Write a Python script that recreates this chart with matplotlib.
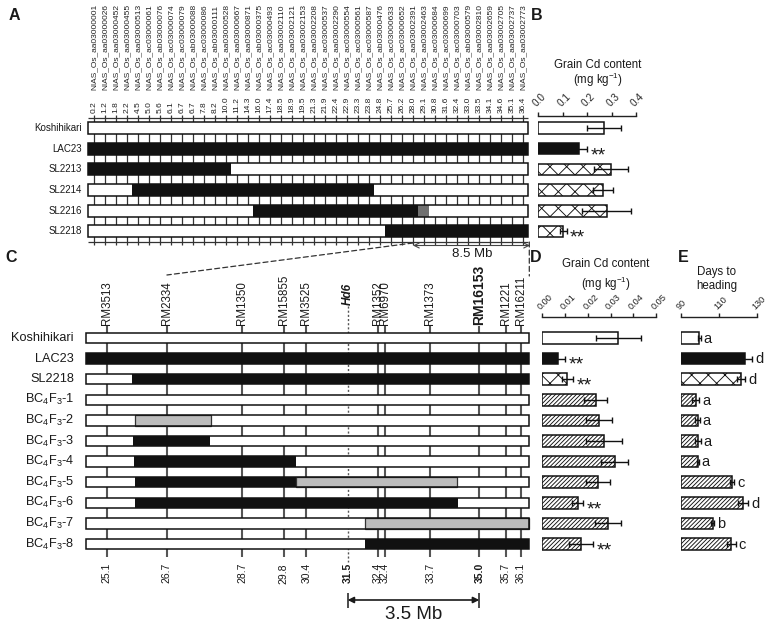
import matplotlib
matplotlib.use('Agg')
import matplotlib.pyplot as plt
from matplotlib.patches import Rectangle, ConnectionPatch

plt.rcParams['font.family'] = ['Liberation Sans', 'DejaVu Sans']
plt.rcParams['mathtext.default'] = 'regular'
plt.rcParams['hatch.linewidth'] = 0.65
plt.rcParams['text.color'] = '#1a1a1a'

# ---------------- data ----------------
A_markers = [
    'NIAS_Os_aa03000001', 'NIAS_Os_aa03000026', 'NIAS_Os_aa03000452', 'NIAS_Os_aa03000455',
    'NIAS_Os_aa03000513', 'NIAS_Os_ac03000061', 'NIAS_Os_ab03000076', 'NIAS_Os_ac03000074',
    'NIAS_Os_ac03000079', 'NIAS_Os_ab03000088', 'NIAS_Os_ac03000086', 'NIAS_Os_ab03000111',
    'NIAS_Os_aa03000528', 'NIAS_Os_aa03000667', 'NIAS_Os_aa03000871', 'NIAS_Os_ab03000375',
    'NIAS_Os_ac03000493', 'NIAS_Os_aa03002110', 'NIAS_Os_aa03002121', 'NIAS_Os_aa03002153',
    'NIAS_Os_aa03002208', 'NIAS_Os_ac03000537', 'NIAS_Os_aa03002290', 'NIAS_Os_ac03000554',
    'NIAS_Os_ac03000561', 'NIAS_Os_ac03000587', 'NIAS_Os_ab03000476', 'NIAS_Os_ac03000633',
    'NIAS_Os_ac03000652', 'NIAS_Os_aa03002391', 'NIAS_Os_aa03002463', 'NIAS_Os_ac03000684',
    'NIAS_Os_ac03000699', 'NIAS_Os_ac03000703', 'NIAS_Os_ab03000579', 'NIAS_Os_aa03002810',
    'NIAS_Os_aa03002659', 'NIAS_Os_aa03002705', 'NIAS_Os_aa03002737', 'NIAS_Os_aa03002773']
A_pos = [0.2, 1.2, 1.8, 2.2, 4.5, 5.0, 5.6, 6.1, 6.7, 6.7, 7.8, 8.2, 10.0, 11.2, 14.3, 16.0,
         17.4, 18.5, 18.9, 19.5, 21.3, 21.9, 22.4, 22.9, 23.3, 23.8, 24.8, 25.7, 26.2, 28.0,
         29.1, 30.8, 31.6, 32.4, 33.0, 33.5, 34.1, 34.6, 35.1, 36.4]
A_lines = ['Koshihikari', 'LAC23', 'SL2213', 'SL2214', 'SL2216', 'SL2218']
# genotype runs along the 40 markers (K = Koshihikari, L = LAC23, H = heterozygous)
A_geno = [[('K', 40)], [('L', 40)], [('L', 13), ('K', 27)], [('K', 4), ('L', 22), ('K', 14)],
          [('K', 15), ('L', 15), ('H', 1), ('K', 9)], [('K', 27), ('L', 13)]]
A_span_label = '8.5 Mb'
A_span_start = 28.0

B_cd = [0.27, 0.168, 0.296, 0.265, 0.28, 0.103]
B_err = [0.07, 0.033, 0.07, 0.04, 0.10, 0.013]
B_sig = ['', '**', '', '', '', '**']
B_ticks = [0.0, 0.1, 0.2, 0.3, 0.4]

C_markers = ['RM3513', 'RM2334', 'RM1350', 'RM15855', 'RM3525', 'Hd6', 'RM1352', 'RM6970',
             'RM1373', 'RM16153', 'RM1221', 'RM16211']
C_pos = [25.1, 26.7, 28.7, 29.8, 30.4, 31.5, 32.4, 32.4, 33.7, 35.0, 35.7, 36.1]
C_gene = 'Hd6'
C_key = 'RM16153'
C_region = (24.55, 36.32)
C_lines = ['Koshihikari', 'LAC23', 'SL2218', 'BC$_4$F$_3$-1', 'BC$_4$F$_3$-2', 'BC$_4$F$_3$-3',
           'BC$_4$F$_3$-4', 'BC$_4$F$_3$-5', 'BC$_4$F$_3$-6', 'BC$_4$F$_3$-7', 'BC$_4$F$_3$-8']
C_segs = [
    [],
    [(24.55, 36.32, 'L')],
    [(25.77, 36.32, 'L')],
    [],
    [(25.84, 27.86, 'H')],
    [(25.81, 27.84, 'L')],
    [(25.82, 30.13, 'L')],
    [(25.86, 30.14, 'L'), (30.14, 34.41, 'H')],
    [(25.86, 34.43, 'L')],
    [(31.96, 36.32, 'H')],
    [(31.95, 36.32, 'L')],
]

D_cd = [0.0335, 0.0070, 0.0110, 0.0235, 0.0251, 0.0270, 0.0319, 0.0245, 0.0156, 0.0288, 0.0169]
D_err = [0.0100, 0.0030, 0.0024, 0.0050, 0.0057, 0.0080, 0.0060, 0.0054, 0.0025, 0.0058, 0.0053]
D_sig = ['', '**', '**', '', '', '', '', '', '**', '', '**']
D_ticks = [0.00, 0.01, 0.02, 0.03, 0.04, 0.05]

E_days = [99.8, 123.8, 121.7, 97.9, 98.9, 98.9, 98.9, 117.0, 122.9, 106.8, 116.6]
E_err = [0.9, 3.8, 2.2, 1.8, 1.3, 1.6, 0.5, 1.2, 2.6, 0.7, 2.3]
E_group = ['a', 'd', 'd', 'a', 'a', 'a', 'a', 'c', 'd', 'b', 'c']
E_ticks = [90, 110, 130]

# ---------------- layout helpers ----------------
W, H = 775, 624
fig = plt.figure(figsize=(W / 100, H / 100), dpi=100)


def inv(m, p):
    d0, p0, d1, p1 = m
    return d0 + (p - p0) * (d1 - d0) / (p1 - p0)


def make_ax(box, xm, ym):
    x0, x1, y0, y1 = box
    ax = fig.add_axes([x0 / W, 1 - y1 / H, (x1 - x0) / W, (y1 - y0) / H])
    ax.set_xlim(inv(xm, x0), inv(xm, x1))
    ax.set_ylim(inv(ym, y1), inv(ym, y0))
    ax.patch.set_visible(False)
    return ax


def ftext(x, y, s, **kw):
    fig.text(x / W, 1 - y / H, s, **kw)


XA = (0, 94, 39, 523)
YA = (0, 128, 1, 148.7)
XC = (25.1, 106.7, 36.1, 520.7)
YC = (0, 338, 1, 358.6)
EDGE = '#111111'
LINE = '#333333'

# ---------------- panel A ----------------
FILL_A = {'K': 'white', 'L': '#111111', 'H': '#707070'}
axA = make_ax((0, 540, 0, 262), XA, YA)
axA.axis('off')
n = len(A_markers)
xs = list(range(n))
aL, aR = inv(XA, 88.3), inv(XA, 528.3)
hA = 12 / 20.7
axA.vlines(xs, inv(YA, 115), inv(YA, 244.5), color=LINE, lw=0.9, zorder=1)
axA.hlines([inv(YA, 117.5), inv(YA, 241.5)], aL, aR, color=LINE, lw=0.9, zorder=1)
for i, (name, runs) in enumerate(zip(A_lines, A_geno)):
    k = 0
    for g, cnt in runs:
        s = aL if k == 0 else k - 0.5
        e = aR if k + cnt == n else k + cnt - 0.5
        axA.add_patch(Rectangle((s, i - hA / 2), e - s, hA, fc=FILL_A[g], ec='none', zorder=2))
        k += cnt
    axA.add_patch(Rectangle((aL, i - hA / 2), aR - aL, hA, fc='none', ec=EDGE, lw=1.1, zorder=3))
    axA.text(inv(XA, 82), i, name, ha='right', va='center', fontsize=7)
for x, name, p in zip(xs, A_markers, A_pos):
    axA.text(x, inv(YA, 90), name, rotation=90, ha='center', va='bottom', fontsize=6,
             color='#222222')
    axA.text(x, inv(YA, 113), f'{p:.1f}', rotation=90, ha='center', va='bottom', fontsize=6,
             color='#222222')
i_start = A_pos.index(A_span_start)
ya_arrow = inv(YA, 245.5)
axA.annotate('', xy=(inv(XA, 530), ya_arrow), xytext=(i_start, ya_arrow),
             arrowprops=dict(arrowstyle='<->', color='#444444', lw=0.8, shrinkA=0, shrinkB=0,
                             mutation_scale=9), annotation_clip=False)
axA.text(inv(XA, 472), inv(YA, 254), A_span_label, ha='center', va='center', fontsize=9.5)

# ---------------- panel C ----------------
FILL_C = {'K': 'white', 'L': '#111111', 'H': '#bcbcbc'}
axC = make_ax((0, 540, 255, 624), XC, YC)
axC.axis('off')
disp = list(C_pos)
for j in range(1, len(C_pos)):
    if C_pos[j] == C_pos[j - 1]:
        disp[j - 1] -= 0.09
        disp[j] += 0.09
cl, cr = C_region
hC = 10.5 / 20.6
for name, xv, p in zip(C_markers, disp, C_pos):
    if name == C_gene:
        axC.vlines(xv, inv(YC, 306), inv(YC, 562), color='#555555', lw=1.0,
                   linestyles=(0, (1.5, 1.5)), zorder=1)
        axC.text(xv, inv(YC, 305), name, rotation=90, ha='center', va='bottom', fontsize=8.5,
                 fontweight='bold', fontstyle='italic')
    else:
        axC.vlines(xv, inv(YC, 326), inv(YC, 557), color='#555555', lw=1.5, zorder=1)
        bold = name == C_key
        axC.text(xv, inv(YC, 325), name, rotation=90, ha='center', va='bottom',
                 fontsize=10 if bold else 8.3, fontweight='bold' if bold else 'normal')
    emph = name in (C_gene, C_key)
    axC.text(xv, inv(YC, 563), f'{p:.1f}', rotation=90, ha='center', va='top', fontsize=7.5,
             fontweight='bold' if emph else 'normal')
for i, (name, segs) in enumerate(zip(C_lines, C_segs)):
    axC.add_patch(Rectangle((cl, i - hC / 2), cr - cl, hC, fc='white', ec='none', zorder=2))
    for s, e, g in segs:
        axC.add_patch(Rectangle((s, i - hC / 2), e - s, hC, fc=FILL_C[g],
                                ec='#333333' if g == 'H' else 'none', lw=0.9, zorder=3))
    axC.add_patch(Rectangle((cl, i - hC / 2), cr - cl, hC, fc='none', ec=EDGE, lw=1.1, zorder=4))
    axC.text(inv(XC, 74), i, name, ha='right', va='center', fontsize=9.2)

x_g = C_pos[C_markers.index(C_gene)]
x_k = C_pos[C_markers.index(C_key)]
yc_arrow = inv(YC, 600)
axC.annotate('', xy=(x_k, yc_arrow), xytext=(x_g, yc_arrow),
             arrowprops=dict(arrowstyle='<|-|>', color='#1a1a1a', lw=1.2, shrinkA=0, shrinkB=0,
                             mutation_scale=9), annotation_clip=False)
axC.vlines([x_g, x_k], inv(YC, 592.5), inv(YC, 608), color='#1a1a1a', lw=1.1, clip_on=False)
axC.text((x_g + x_k) / 2, inv(YC, 614.5), f'{x_k - x_g:.1f} Mb', ha='center', va='center',
         fontsize=13.5)

# connectors between A and C
con1 = ConnectionPatch(xyA=(i_start, inv(YA, 243)), coordsA=axA.transData,
                       xyB=(C_pos[1], inv(YC, 275)), coordsB=axC.transData,
                       ls=(0, (4, 2.5)), lw=0.9, color='#333333')
con2 = ConnectionPatch(xyA=(inv(XA, 529.3), inv(YA, 242)), coordsA=axA.transData,
                       xyB=(inv(XC, 529.3), inv(YC, 276)), coordsB=axC.transData,
                       ls=(0, (4, 2.5)), lw=0.9, color='#333333')
fig.add_artist(con1)
fig.add_artist(con2)


# ---------------- bar panels ----------------
def bar_style(name):
    if name == 'Koshihikari':
        return 'white', None
    if name == 'LAC23':
        return '#111111', None
    if name.startswith('SL'):
        return 'white', 'xx'
    return 'white', '////////'


def bar_panel(box, xm, ym, vals, errs, names, ticks, labels, tick_fs, pad, base=0.0):
    ax = make_ax(box, xm, ym)
    for s in ['left', 'right', 'bottom']:
        ax.spines[s].set_visible(False)
    ax.spines['top'].set_linewidth(1.0)
    ax.spines['top'].set_color('#222222')
    ax.xaxis.tick_top()
    ax.set_yticks([])
    ax.set_xticks(ticks)
    ax.set_xticklabels(labels, rotation=45, ha='left', va='bottom', rotation_mode='anchor',
                       fontsize=tick_fs)
    ax.tick_params(axis='x', direction='out', length=3, width=1, pad=pad, colors='#222222')
    ys = list(range(len(vals)))
    hb = 11.5 / (ym[3] - ym[1])
    for y, v, name in zip(ys, vals, names):
        fc, hatch = bar_style(name)
        ax.barh(y, v - base, left=base, height=hb, color=fc, edgecolor=EDGE, lw=1.1,
                hatch=hatch, zorder=2)
    ax.errorbar(vals, ys, xerr=errs, fmt='none', ecolor=EDGE, elinewidth=1.0, capsize=2.5,
                capthick=1.0, zorder=3)
    return ax, ys


def add_stars(ax, ys, vals, errs, sig, fs=14):
    for y, v, e, s in zip(ys, vals, errs, sig):
        if s:
            ax.annotate(s, xy=(v + e, y), xytext=(2.5, -0.58 * fs), textcoords='offset points',
                        ha='left', va='baseline', fontsize=fs, annotation_clip=False)


axB, ysB = bar_panel((538.3, 636, 115.7, 245), (0, 538.3, 0.4, 636), YA, B_cd, B_err, A_lines,
                     B_ticks, [f'{t:.1f}' for t in B_ticks], 7.2, 2.5)
add_stars(axB, ysB, B_cd, B_err, B_sig)

axD, ysD = bar_panel((542.3, 656, 316.7, 560), (0, 542.3, 0.05, 656), YC, D_cd, D_err, C_lines,
                     D_ticks, [f'{t:.2f}' for t in D_ticks], 6.6, 0.5)
add_stars(axD, ysD, D_cd, D_err, D_sig)

axE, ysE = bar_panel((680.7, 756.7, 316.7, 560), (90, 680.7, 130, 756.7), YC, E_days, E_err,
                     C_lines, E_ticks, [str(t) for t in E_ticks], 6.6, 0.5, base=90)
for y, v, e, g in zip(ysE, E_days, E_err, E_group):
    axE.annotate(g, xy=(v + e, y), xytext=(2.0, -0.33 * 10.5), textcoords='offset points',
                 ha='left', va='baseline', fontsize=10.5, annotation_clip=False)

# ---------------- titles and panel letters ----------------
ftext(598, 64.5, 'Grain Cd content', ha='center', va='center', fontsize=8.3)
ftext(598, 80, '(mg kg$^{-1}$)', ha='center', va='center', fontsize=8.3)
ftext(605.5, 264, 'Grain Cd content', ha='center', va='center', fontsize=8.3)
ftext(606, 283.5, '(mg kg$^{-1}$)', ha='center', va='center', fontsize=8.3)
ftext(716.7, 271.5, 'Days to', ha='center', va='center', fontsize=8.3)
ftext(716.7, 285.5, 'heading', ha='center', va='center', fontsize=8.3)
for L, x, y in [('A', 14, 15), ('B', 537, 15), ('C', 11, 257), ('D', 536, 257), ('E', 683, 257)]:
    ftext(x, y, L, ha='center', va='center', fontsize=11.5, fontweight='bold')

fig.savefig('out.png', dpi=100)
